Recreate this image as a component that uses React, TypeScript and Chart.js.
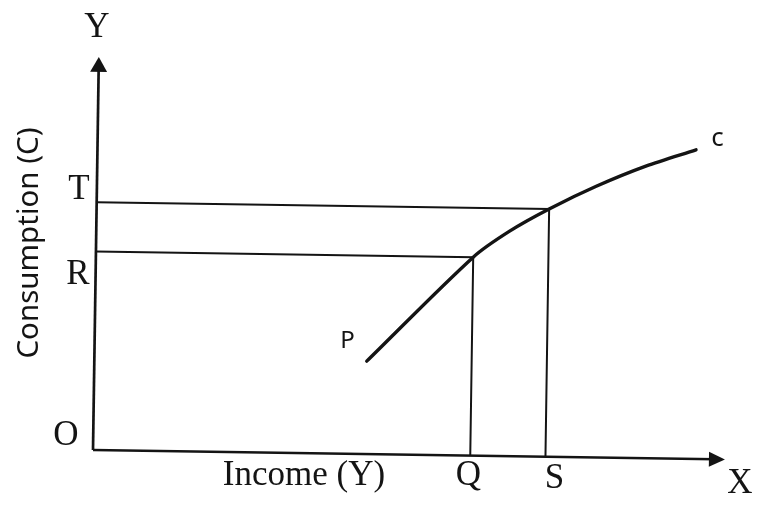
import { useEffect, useRef } from "react";
import { Chart, registerables } from "chart.js";

Chart.register(...registerables);

// Axis extents (in income / consumption units)
const X_AXIS_END = 100;
const Y_AXIS_END = 62.2;

// Marked income levels on the X axis
const Q_INCOME = 59.7;
const S_INCOME = 71.6;

// Marked consumption levels on the Y axis
const R_CONSUMPTION = 31.4;
const T_CONSUMPTION = 39.2;

// Consumption curve PC
const curveIncome = [43.1, 59.7, 65.4, 71.6, 79.0, 86.8, 94.7];
const curveConsumption = [14.7, 31.4, 35.6, 39.2, 42.9, 46.2, 48.9];

// Canvas layout
const W = 764;
const H = 525;
const ORIGIN_PX_X = 93;
const ORIGIN_PX_Y = 450;
const PX_PER_UNIT = 6.32;
const TILT = (0.85 * Math.PI) / 180;

const INK = "#141414";
const SERIF = '"Liberation Serif", "Times New Roman", serif';
const HAND = '"Noto Sans", sans-serif';

const tiltPlugin = {
  id: "tiltAndArrows",
  beforeDatasetsDraw(chart: any) {
    const { ctx, scales } = chart;
    const ox = scales.x.getPixelForValue(0);
    const oy = scales.y.getPixelForValue(0);
    ctx.save();
    ctx.translate(ox, oy);
    ctx.rotate(TILT);
    ctx.translate(-ox, -oy);
  },
  afterDatasetsDraw(chart: any) {
    const { ctx, scales } = chart;
    const x = scales.x;
    const y = scales.y;
    ctx.fillStyle = INK;
    // Y axis arrow head
    const ytx = x.getPixelForValue(0);
    const yty = y.getPixelForValue(Y_AXIS_END);
    ctx.beginPath();
    ctx.moveTo(ytx, yty);
    ctx.lineTo(ytx - 8.5, yty + 15);
    ctx.lineTo(ytx + 8.5, yty + 15);
    ctx.closePath();
    ctx.fill();
    // X axis arrow head
    const xtx = x.getPixelForValue(X_AXIS_END);
    const xty = y.getPixelForValue(0);
    ctx.beginPath();
    ctx.moveTo(xtx, xty);
    ctx.lineTo(xtx - 16, xty - 7.5);
    ctx.lineTo(xtx - 16, xty + 7.5);
    ctx.closePath();
    ctx.fill();
    ctx.restore();
  },
  afterDraw(chart: any) {
    const { ctx, scales } = chart;
    const x = scales.x;
    const y = scales.y;
    const ox = x.getPixelForValue(0);
    const oy = y.getPixelForValue(0);
    ctx.save();
    ctx.fillStyle = INK;
    ctx.textAlign = "center";
    ctx.textBaseline = "alphabetic";
    ctx.font = `35px ${SERIF}`;
    ctx.fillText("Y", ox + 4, y.getPixelForValue(Y_AXIS_END) - 20);
    ctx.fillText("T", ox - 14, y.getPixelForValue(T_CONSUMPTION) - 3);
    ctx.fillText("R", ox - 15, y.getPixelForValue(R_CONSUMPTION) + 32);
    ctx.fillText("O", ox - 27, oy - 5);
    ctx.fillText("Q", x.getPixelForValue(Q_INCOME) - 2, oy + 35);
    ctx.fillText("S", x.getPixelForValue(S_INCOME) + 9, oy + 38);
    ctx.fillText("X", x.getPixelForValue(X_AXIS_END) + 15, oy + 43);
    ctx.fillText("Income (Y)", ox + 211, oy + 35);

    // Hand-lettered curve labels
    ctx.font = `24px ${HAND}`;
    ctx.fillText("P", x.getPixelForValue(curveIncome[0]) - 18, y.getPixelForValue(curveConsumption[0]) - 9);
    ctx.font = `26px ${HAND}`;
    const last = curveIncome.length - 1;
    ctx.fillText("c", x.getPixelForValue(curveIncome[last]) + 26, y.getPixelForValue(curveConsumption[last]) + 5);

    // Vertical axis title
    const title = "Consumption (C)";
    ctx.font = `24px ${HAND}`;
    const w = ctx.measureText(title).width;
    const size = (24 * 231) / w;
    ctx.font = `${size.toFixed(1)}px ${HAND}`;
    ctx.translate(38, 243);
    ctx.rotate(-Math.PI / 2);
    ctx.fillText(title, 0, 0);
    ctx.restore();
  },
};

export default function App() {
  const canvasRef = useRef<HTMLCanvasElement | null>(null);

  useEffect(() => {
    if (!canvasRef.current) return;
    const pt = (a: number, b: number) => ({ x: a, y: b });
    const line = (data: { x: number; y: number }[], width: number) => ({
      data,
      showLine: true,
      borderColor: INK,
      borderWidth: width,
      pointRadius: 0,
      fill: false,
      tension: 0,
    });
    const chart = new Chart(canvasRef.current, {
      type: "scatter",
      data: {
        datasets: [
          line([pt(0, 0), pt(0, Y_AXIS_END - 10 / PX_PER_UNIT)], 2.7),
          line([pt(0, 0), pt(X_AXIS_END - 10 / PX_PER_UNIT, 0)], 2.7),
          line([pt(0, T_CONSUMPTION), pt(S_INCOME, T_CONSUMPTION), pt(S_INCOME, 0)], 2),
          line([pt(0, R_CONSUMPTION), pt(Q_INCOME, R_CONSUMPTION), pt(Q_INCOME, 0)], 2),
          {
            ...line(curveIncome.map((v, i) => pt(v, curveConsumption[i])), 3.4),
            tension: 0.3,
            borderCapStyle: "round" as const,
            borderJoinStyle: "round" as const,
          },
        ],
      },
      options: {
        responsive: false,
        animation: false,
        events: [],
        layout: { padding: 0 },
        plugins: {
          legend: { display: false },
          tooltip: { enabled: false },
          title: { display: false },
        },
        scales: {
          x: {
            type: "linear",
            display: false,
            min: -ORIGIN_PX_X / PX_PER_UNIT,
            max: (W - ORIGIN_PX_X) / PX_PER_UNIT,
          },
          y: {
            type: "linear",
            display: false,
            min: -(H - ORIGIN_PX_Y) / PX_PER_UNIT,
            max: ORIGIN_PX_Y / PX_PER_UNIT,
          },
        },
      },
      plugins: [tiltPlugin],
    });
    return () => chart.destroy();
  }, []);

  return (
    <div style={{ position: "fixed", left: 0, top: 0, width: W, height: H, background: "#fff" }}>
      <canvas ref={canvasRef} width={W} height={H} />
    </div>
  );
}
